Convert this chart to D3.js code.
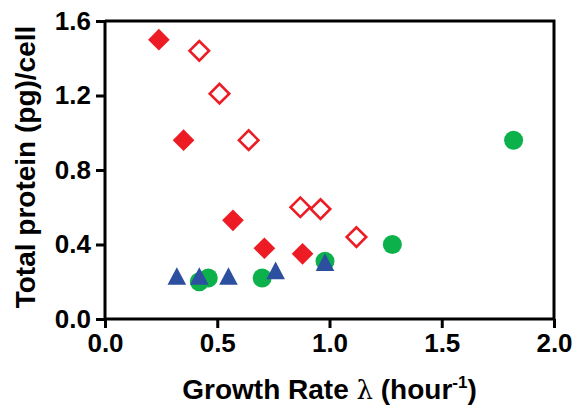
<!DOCTYPE html>
<html>
<head>
<meta charset="utf-8">
<script src="https://cdn.jsdelivr.net/npm/d3@7"></script>
<style>
  html, body { margin: 0; padding: 0; background: #fff; }
  svg text { font-family: "Liberation Sans", Arial, Helvetica, sans-serif; font-weight: bold; }
</style>
</head>
<body>
<svg id="chart" width="579" height="412"></svg>
<script>
// ---- data ----
const filledDiamondX = [0.24, 0.35, 0.57, 0.71, 0.88];
const filledDiamondY = [1.50, 0.96, 0.53, 0.38, 0.35];

const openDiamondX = [0.42, 0.51, 0.64, 0.87, 0.96, 1.12];
const openDiamondY = [1.44, 1.21, 0.96, 0.60, 0.59, 0.44];

const circleX = [0.42, 0.46, 0.70, 0.98, 1.28, 1.82];
const circleY = [0.20, 0.22, 0.22, 0.31, 0.40, 0.96];

const triangleX = [0.32, 0.42, 0.55, 0.76, 0.98];
const triangleY = [0.215, 0.215, 0.215, 0.245, 0.29];

const xTicks = [0.0, 0.5, 1.0, 1.5, 2.0];
const yTicks = [0.0, 0.4, 0.8, 1.2, 1.6];

const RED = "#ED1C24", GREEN = "#0DB14B", BLUE = "#2D4FA0";

// ---- layout ----
const svg = d3.select("#chart");
const mLeft = 105, mRight = 554, mTop = 21, mBottom = 319;

const x = d3.scaleLinear().domain([0, 2]).range([mLeft, mRight]);
const y = d3.scaleLinear().domain([0, 1.6]).range([mBottom, mTop]);

// frame (top & right)
svg.append("path")
  .attr("d", `M${x(0)},${y(1.6)}H${x(2)}V${y(0)}`)
  .attr("fill", "none").attr("stroke", "#000").attr("stroke-width", 3);

// axes
const xAxis = svg.append("g").attr("transform", `translate(0,${mBottom})`)
  .call(d3.axisBottom(x).tickValues(xTicks).tickFormat(d3.format(".1f")).tickSize(9).tickPadding(4));
const yAxis = svg.append("g").attr("transform", `translate(${mLeft},0)`)
  .call(d3.axisLeft(y).tickValues(yTicks).tickFormat(d3.format(".1f")).tickSize(9).tickPadding(5));

[xAxis, yAxis].forEach(g => {
  g.select(".domain").attr("stroke-width", 3).attr("stroke", "#000");
  g.selectAll(".tick line").attr("stroke-width", 3).attr("stroke", "#000");
  g.selectAll(".tick text").attr("font-size", 26).attr("fill", "#000")
    .attr("font-family", "'Liberation Sans', Arial, sans-serif").attr("font-weight", "bold");
});
xAxis.select(".domain").attr("d", `M${mLeft},0H${mRight}`);
yAxis.select(".domain").attr("d", `M0,${mBottom}V${mTop}`);
xAxis.selectAll(".tick text").attr("dy", "0.78em");

// axis titles
const xt = svg.append("text")
  .attr("x", (mLeft + mRight) / 2).attr("y", 399)
  .attr("text-anchor", "middle").attr("font-size", 28).attr("fill", "#000");
xt.append("tspan").text("Growth Rate ");
xt.append("tspan").attr("font-weight", "normal").attr("font-family", "'DejaVu Serif', 'Liberation Serif', serif").attr("font-size", 26).text("\u03BB");
xt.append("tspan").text(" (hour");
xt.append("tspan").attr("font-size", 17).attr("dy", -11).text("-1");
xt.append("tspan").attr("dy", 11).text(")");

svg.append("text")
  .attr("transform", `translate(35,${(mTop + mBottom) / 2 - 3}) rotate(-90)`)
  .attr("text-anchor", "middle").attr("font-size", 28).attr("fill", "#000")
  .text("Total protein (pg)/cell");

// ---- marks ----
const zip = (xs, ys) => xs.map((v, i) => ({ x: v, y: ys[i] }));

svg.append("g").selectAll("path").data(zip(filledDiamondX, filledDiamondY)).join("path")
  .attr("d", d3.symbol(d3.symbolSquare, 235)())
  .attr("transform", d => `translate(${x(d.x)},${y(d.y)}) rotate(45)`)
  .attr("fill", RED);

svg.append("g").selectAll("path").data(zip(openDiamondX, openDiamondY)).join("path")
  .attr("d", d3.symbol(d3.symbolSquare, 190)())
  .attr("transform", d => `translate(${x(d.x)},${y(d.y)}) rotate(45)`)
  .attr("fill", "#fff").attr("stroke", RED).attr("stroke-width", 2.6);

svg.append("g").selectAll("path").data(zip(circleX, circleY)).join("path")
  .attr("d", d3.symbol(d3.symbolCircle, 283)())
  .attr("transform", d => `translate(${x(d.x)},${y(d.y)})`)
  .attr("fill", GREEN);

svg.append("g").selectAll("path").data(zip(triangleX, triangleY)).join("path")
  .attr("d", d3.symbol(d3.symbolTriangle, 150)())
  .attr("transform", d => `translate(${x(d.x)},${y(d.y)}) scale(1,1.1)`)
  .attr("fill", BLUE);
</script>
</body>
</html>
